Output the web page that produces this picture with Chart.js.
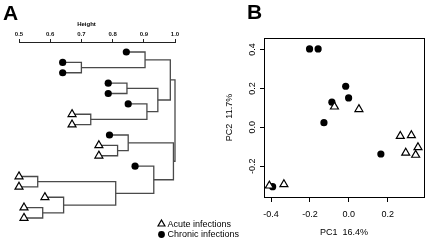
<!DOCTYPE html>
<html>
<head>
<meta charset="utf-8">
<script src="https://cdn.jsdelivr.net/npm/chart.js@4/dist/chart.umd.min.js"></script>
<style>
  html, body { margin: 0; padding: 0; background: #fff; }
  #wrap { position: relative; width: 430px; height: 242px; overflow: hidden; }
  #dendro { position: absolute; left: 0; top: 0; }
  #pca { position: absolute; left: 215px; top: 0; }
</style>
</head>
<body>
<div id="wrap">
  <canvas id="dendro" width="250" height="242"></canvas>
  <canvas id="pca" width="215" height="242"></canvas>
</div>
<script>
// panel A: leaves from top to bottom (A = acute, C = chronic)
const leafGroups = ["C", "C", "C", "C", "C", "C", "A", "A", "C", "A", "A", "C", "A", "A", "A", "A", "A"];
// hclust style merges: negative = leaf number, positive = earlier merge
const mergePairs = [[-2, -3], [-1, 1], [-4, -5], [-7, -8], [-6, 4], [3, 5], [2, 6], [-10, -11],
                    [-9, 8], [-13, -14], [-16, -17], [-15, 11], [10, 12], [-12, 13], [9, 14], [7, 15]];
const mergeHeights = [0.70, 0.904, 0.846, 0.73, 0.91, 0.945, 0.985, 0.816,
                      0.85, 0.56, 0.576, 0.643, 0.81, 0.932, 0.995, 1.0];
const leafHang = 0.06;
const heightTicks = [0.5, 0.6, 0.7, 0.8, 0.9, 1.0];

// panel B: PCA scores
const acutePC1 = [-0.074, 0.052, 0.265, 0.322, 0.356, 0.293, 0.344, -0.409, -0.334];
const acutePC2 = [0.106, 0.093, -0.045, -0.041, -0.103, -0.131, -0.142, -0.300, -0.293];
const chronicPC1 = [-0.202, -0.158, -0.016, -0.001, -0.087, -0.128, 0.165, -0.392];
const chronicPC2 = [0.403, 0.403, 0.211, 0.151, 0.129, 0.024, -0.137, -0.305];
const pc1Ticks = [-0.4, -0.2, 0.0, 0.2];
const pc2Ticks = [-0.2, 0.0, 0.2, 0.4];

const groupLabels = { A: "Acute infections", C: "Chronic infections" };

Chart.defaults.font.family = "'Liberation Sans', Arial, sans-serif";
Chart.defaults.color = "#000";

const fmt = v => (Math.abs(v) < 1e-9 ? 0 : v).toFixed(1);

const markerStyle = {
  A: { pointStyle: "triangle", pointRadius: 4.6, backgroundColor: "#fff", borderColor: "#000", borderWidth: 1.2 },
  C: { pointStyle: "circle", pointRadius: 3.6, backgroundColor: "#000", borderColor: "#000", borderWidth: 0 }
};

// build dendrogram coordinates from the merges
const nodeY = [];
const segments = [];
const leafPoints = { A: [], C: [] };
function childPos(c, h) {
  if (c < 0) {
    const i = -c - 1;
    const p = { x: h - leafHang, y: i };
    leafPoints[leafGroups[i]].push(p);
    return p;
  }
  return { x: mergeHeights[c - 1], y: nodeY[c - 1] };
}
mergePairs.forEach((pair, k) => {
  const h = mergeHeights[k];
  const a = childPos(pair[0], h);
  const b = childPos(pair[1], h);
  nodeY[k] = (a.y + b.y) / 2;
  segments.push([{ x: a.x, y: a.y }, { x: h, y: a.y }, { x: h, y: b.y }, { x: b.x, y: b.y }]);
});

const dendroSets = [
  Object.assign({ label: groupLabels.A, data: leafPoints.A, clip: false }, markerStyle.A),
  Object.assign({ label: groupLabels.C, data: leafPoints.C, clip: false }, markerStyle.C)
];
segments.forEach(s => dendroSets.push({
  data: s, showLine: true, pointRadius: 0, borderColor: "#4a4a4a", borderWidth: 1.3, clip: false
}));

const panelA = {
  id: "panelA",
  afterDraw(chart) {
    const ctx = chart.ctx;
    ctx.save();
    ctx.fillStyle = "#000";
    ctx.font = "bold 21px 'Liberation Sans', Arial, sans-serif";
    ctx.textBaseline = "alphabetic";
    ctx.textAlign = "left";
    ctx.fillText("A", 3, 20);
    ctx.font = "bold 6px 'Liberation Sans', Arial, sans-serif";
    ctx.textAlign = "center";
    ctx.fillText("Height", 86.5, 26);
    // legend
    ctx.font = "9px 'Liberation Sans', Arial, sans-serif";
    ctx.textAlign = "left";
    ctx.textBaseline = "middle";
    [["A", 224, 4], ["C", 234.5, 3.4]].forEach(([g, y, r]) => {
      const st = markerStyle[g];
      ctx.fillStyle = st.backgroundColor;
      ctx.strokeStyle = st.borderColor;
      ctx.lineWidth = st.borderWidth;
      Chart.helpers.drawPoint(ctx, { pointStyle: st.pointStyle, radius: r, borderWidth: st.borderWidth }, 161.5, y);
      ctx.fillStyle = "#000";
      ctx.fillText(groupLabels[g], 167.5, y + 0.5);
    });
    ctx.restore();
  }
};

new Chart(document.getElementById("dendro"), {
  type: "scatter",
  data: { datasets: dendroSets },
  options: {
    responsive: false,
    animation: false,
    events: [],
    layout: { padding: { left: 19, right: 75, top: 0, bottom: 6 } },
    plugins: { legend: { display: false }, tooltip: { enabled: false } },
    scales: {
      x: {
        type: "linear", position: "top", min: 0.5, max: 1.0,
        afterBuildTicks: s => { s.ticks = heightTicks.map(v => ({ value: v })); },
        afterFit: s => { s.height = 42; },
        grid: { drawOnChartArea: false, tickLength: 3, color: "#222" },
        border: { color: "#222", width: 1 },
        ticks: { font: { size: 6, weight: "bold" }, color: "#111", padding: 1, maxRotation: 0, callback: fmt }
      },
      y: { display: false, reverse: true, min: -0.964, max: 17.735 }
    }
  },
  plugins: [panelA]
});

const panelB = {
  id: "panelB",
  beforeDatasetsDraw(chart) {
    const { ctx, chartArea: a } = chart;
    ctx.save();
    ctx.strokeStyle = "#000";
    ctx.lineWidth = 1;
    ctx.strokeRect(Math.round(a.left) + 0.5, Math.round(a.top) + 0.5,
                   Math.round(a.right - a.left), Math.round(a.bottom - a.top));
    ctx.restore();
  },
  afterDraw(chart) {
    const ctx = chart.ctx;
    ctx.save();
    ctx.fillStyle = "#000";
    ctx.font = "bold 21px 'Liberation Sans', Arial, sans-serif";
    ctx.textBaseline = "alphabetic";
    ctx.fillText("B", 32, 19);
    ctx.restore();
  }
};

const toPts = (xs, ys) => xs.map((x, i) => ({ x: x, y: ys[i] }));

new Chart(document.getElementById("pca"), {
  type: "scatter",
  data: {
    datasets: [
      Object.assign({ label: groupLabels.A, data: toPts(acutePC1, acutePC2) }, markerStyle.A),
      Object.assign({ label: groupLabels.C, data: toPts(chronicPC1, chronicPC2) }, markerStyle.C)
    ]
  },
  options: {
    responsive: false,
    animation: false,
    events: [],
    layout: { padding: { left: 0, right: 3, top: 38, bottom: 0 } },
    plugins: { legend: { display: false }, tooltip: { enabled: false } },
    scales: {
      x: {
        type: "linear", min: -0.4365, max: 0.388,
        afterBuildTicks: s => { s.ticks = pc1Ticks.map(v => ({ value: v })); },
        afterFit: s => { s.height = 45; },
        grid: { drawOnChartArea: false, tickLength: 5, color: "#000" },
        border: { color: "#000" },
        ticks: { font: { size: 9 }, padding: 7, maxRotation: 0, callback: fmt },
        title: { display: true, text: "PC1  16.4%", font: { size: 9 }, padding: { top: 0, bottom: 3.6 } }
      },
      y: {
        type: "linear", min: -0.358, max: 0.459,
        afterBuildTicks: s => { s.ticks = pc2Ticks.map(v => ({ value: v })); },
        afterFit: s => { s.width = 49; },
        grid: { drawOnChartArea: false, tickLength: 4, color: "#000" },
        border: { color: "#000" },
        ticks: { font: { size: 9 }, padding: 0, minRotation: 90, maxRotation: 90, crossAlign: "center", callback: fmt },
        title: { display: true, text: "PC2  11.7%", font: { size: 9 }, padding: { top: 9.6, bottom: 0 } }
      }
    }
  },
  plugins: [panelB]
});
</script>
</body>
</html>
